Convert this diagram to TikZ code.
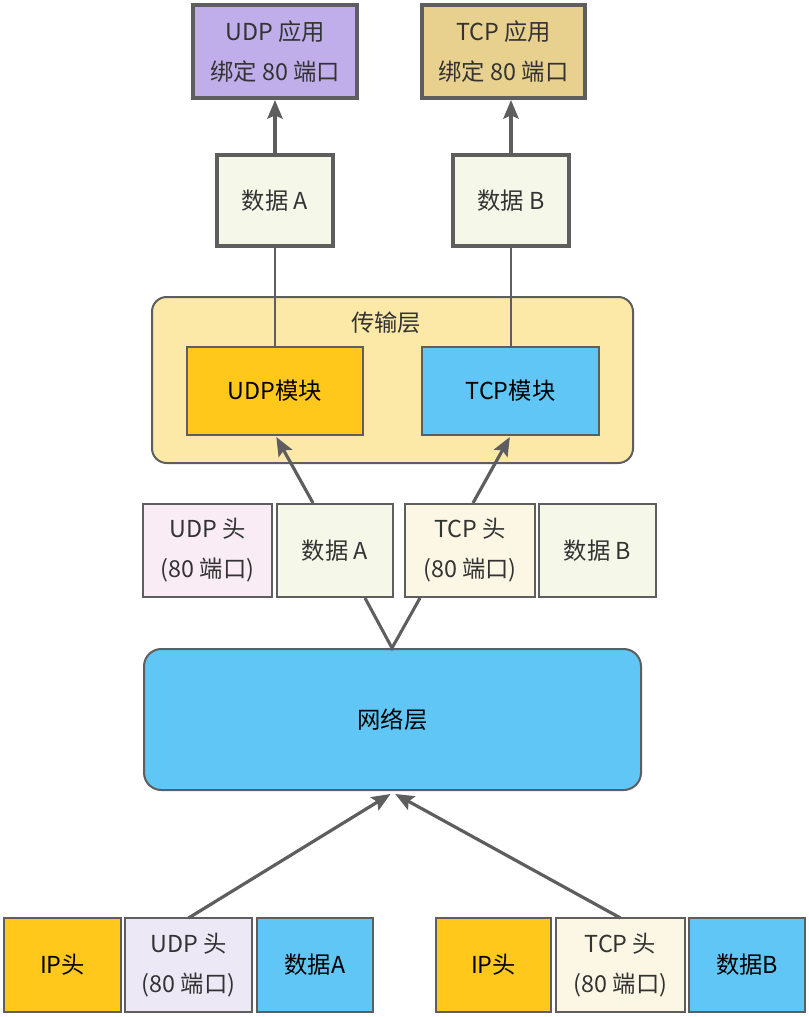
\documentclass[tikz,border=0pt]{standalone}
\usepackage{fontspec}
\newfontfamily\cjk{Noto Sans CJK SC}
\usetikzlibrary{arrows.meta}
\definecolor{edge}{HTML}{5E5E5E}
\definecolor{txt}{HTML}{333333}
\definecolor{appU}{HTML}{BFAEE9}
\definecolor{appT}{HTML}{E8D08E}
\definecolor{cream}{HTML}{F5F8E8}
\definecolor{trans}{HTML}{FCE9A8}
\definecolor{gold}{HTML}{FFC81A}
\definecolor{sky}{HTML}{60C6F5}
\definecolor{pinkh}{HTML}{F9ECF5}
\definecolor{lavh}{HTML}{EDE8F6}
\definecolor{tcph}{HTML}{FCF6E4}
\newcommand\bx[7]{\node[#6, minimum width={(#4-#2)*0.75pt}, minimum height={(#5-#3)*0.75pt}] (#1) at ({(#2+#4)/2},{(#3+#5)/2}) {#7};}
\tikzset{
  base/.style={draw=edge, inner sep=0pt, outer sep=0pt, align=center, text=txt,
    font=\cjk\fontsize{17.5}{30}\selectfont},
  thickbox/.style={base, line width=2.6pt},
  midbox/.style={base, line width=2.2pt},
  thinbox/.style={base, line width=1.5pt},
  arr/.style={draw=edge, line width=2.4pt, -{Stealth[length=14pt,width=11.5pt,inset=2.5pt]}},
  thinline/.style={draw=edge, line width=1.4pt},
  vline/.style={draw=edge, line width=2.3pt},
}
\begin{document}
\begin{tikzpicture}[x=0.75pt,y=-0.75pt]
\useasboundingbox (0,0) rectangle (809,1017);
% top applications
\bx{uapp}{193}{5}{357}{98}{thickbox,fill=appU}{UDP 应用\\绑定 80 端口}
\bx{tapp}{422}{5}{585}{98}{thickbox,fill=appT}{TCP 应用\\绑定 80 端口}
% data boxes
\bx{dA}{217}{155}{333}{246}{thickbox,fill=cream}{数据 A}
\bx{dB}{453}{155}{569}{246}{thickbox,fill=cream}{数据 B}
% transport layer
\bx{trans}{152}{297}{633}{463}{thinbox,fill=trans,rounded corners=11pt}{}
\node[base,draw=none,anchor=center] (translabel) at (386,323) {传输层};
\bx{umod}{187}{347}{363}{435}{thinbox,fill=gold,text=black}{UDP模块}
\bx{tmod}{422}{347}{599}{435}{thinbox,fill=sky,text=black}{TCP模块}
% middle packets
\bx{mUh}{143}{504}{272}{597}{midbox,fill=pinkh}{UDP 头\\(80 端口)}
\bx{mdA}{277}{504}{393}{597}{midbox,fill=cream}{数据 A}
\bx{mTh}{405}{504}{535}{597}{midbox,fill=tcph}{TCP 头\\(80 端口)}
\bx{mdB}{539}{504}{656}{597}{midbox,fill=cream}{数据 B}
% network layer
\bx{net}{144}{649}{641}{790}{thinbox,fill=sky,rounded corners=13pt,text=black}{网络层}
% bottom packets
\bx{bIP1}{4}{918}{121}{1012}{midbox,fill=gold,text=black}{IP头}
\bx{bUh}{125}{918}{252}{1012}{midbox,fill=lavh}{UDP 头\\(80 端口)}
\bx{bdA}{257}{918}{373}{1012}{midbox,fill=sky,text=black}{数据A}
\bx{bIP2}{436}{918}{551}{1012}{midbox,fill=gold,text=black}{IP头}
\bx{bTh}{556}{918}{685}{1012}{midbox,fill=tcph}{TCP 头\\(80 端口)}
\bx{bdB}{689}{918}{805}{1012}{midbox,fill=sky,text=black}{数据B}
% connectors
\draw[arr] (dA.north) -- ([yshift=-1.5pt]dA.north |- uapp.south);
\draw[arr] (dB.north) -- ([yshift=-1.5pt]dB.north |- tapp.south);
\draw[thinline] (dA.south) -- (dA.south |- umod.north);
\draw[thinline] (dB.south) -- (dB.south |- tmod.north);
\coordinate (mA) at (313,503);
\coordinate (mT) at (473,503);
\draw[arr] (mA) -- ([xshift=1pt,yshift=-1.5pt]umod.south);
\draw[arr] (mT) -- ([xshift=-0.5pt,yshift=-1.5pt]tmod.south);
\coordinate (vl) at (365,598);
\coordinate (vr) at (420,598);
\coordinate (vtop) at (392,648);
\draw[vline, line join=miter] (vl) -- (vtop) -- (vr);
\draw[arr] (bUh.north) -- ([xshift=-1.5pt,yshift=-3pt]net.south);
\draw[arr] (bTh.north) -- ([xshift=2pt,yshift=-3pt]net.south);
\end{tikzpicture}
\end{document}
